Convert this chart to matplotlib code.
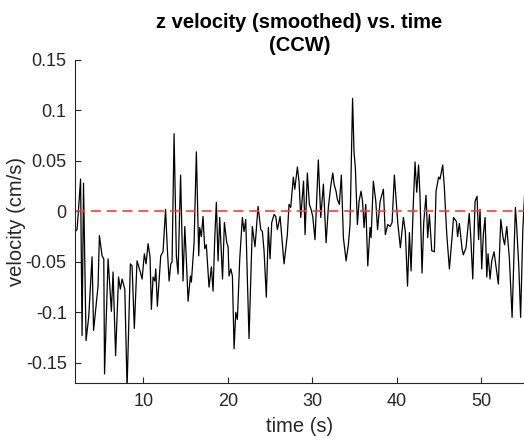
import matplotlib
matplotlib.use("Agg")
import matplotlib.pyplot as plt

# ---- data ----
time_s = [1.92, 2.14, 2.26, 2.56, 2.74, 2.91, 3.21, 3.53, 3.92, 4.10,
          4.63, 4.79, 5.11, 5.31, 5.40, 5.82, 6.21, 6.41, 6.71, 7.06,
          7.27, 7.48, 7.80, 8.07, 8.46, 8.66, 8.93, 9.25, 9.64, 9.85,
          10.12, 10.32, 10.56, 10.79, 10.95, 11.15, 11.35, 11.47, 11.66, 12.06,
          12.33, 12.63, 12.84, 13.05, 13.25, 13.40, 13.64, 13.91, 14.11, 14.41,
          14.70, 14.91, 15.09, 15.30, 15.57, 15.69, 16.01, 16.28, 16.56, 16.68,
          16.87, 17.07, 17.27, 17.46, 17.78, 18.06, 18.26, 18.46, 18.65, 18.85,
          19.05, 19.38, 19.60, 19.88, 20.04, 20.15, 20.36, 20.55, 20.75, 20.95,
          21.14, 21.42, 21.73, 21.93, 22.13, 22.52, 22.91, 23.23, 23.59, 23.91,
          24.10, 24.30, 24.57, 24.81, 25.01, 25.21, 25.49, 25.69, 25.88, 26.20,
          26.67, 27.06, 27.26, 27.46, 27.77, 27.94, 28.25, 28.45, 28.65, 28.98,
          29.16, 29.43, 29.67, 29.87, 30.07, 30.34, 30.55, 30.73, 31.02, 31.33,
          31.65, 31.92, 32.20, 32.44, 32.60, 32.83, 32.99, 33.22, 33.46, 33.70,
          34.02, 34.29, 34.49, 34.79, 34.96, 35.12, 35.36, 35.56, 35.79, 35.97,
          36.15, 36.35, 36.59, 36.86, 36.98, 37.25, 37.54, 37.75, 38.05, 38.44,
          38.67, 38.96, 39.23, 39.47, 39.74, 40.14, 40.45, 40.81, 41.04, 41.30,
          41.52, 41.72, 41.99, 42.19, 42.39, 42.61, 42.78, 43.02, 43.22, 43.49,
          43.69, 43.89, 44.17, 44.48, 44.68, 44.98, 45.15, 45.47, 45.66, 45.95,
          46.26, 46.58, 46.75, 47.09, 47.23, 47.44, 47.76, 47.91, 48.23, 48.61,
          48.79, 49.03, 49.30, 49.54, 49.72, 49.89, 50.09, 50.28, 50.49, 50.69,
          50.84, 51.08, 51.28, 51.55, 51.87, 52.06, 52.35, 52.62, 52.80, 53.06,
          53.37, 53.69, 54.08, 54.22, 54.48, 54.70, 54.96, 55.17]

velocity = [-0.020, -0.018, -0.005, 0.032, -0.123, 0.028, -0.128, -0.104, -0.045, -0.118,
            -0.074, -0.024, -0.044, -0.047, -0.161, -0.047, -0.099, -0.060, -0.143, -0.065,
            -0.077, -0.067, -0.077, -0.175, -0.052, -0.054, -0.116, -0.049, -0.060, -0.067,
            -0.042, -0.052, -0.032, -0.045, -0.097, -0.065, -0.069, -0.057, -0.094, -0.044,
            -0.040, 0.002, -0.037, -0.069, -0.052, -0.050, 0.077, -0.044, -0.062, 0.036,
            -0.069, -0.015, -0.047, -0.089, -0.064, -0.070, -0.031, 0.059, -0.044, -0.016,
            -0.025, -0.005, -0.037, -0.033, -0.075, -0.055, -0.079, -0.026, 0.009, -0.049,
            -0.006, -0.067, -0.011, -0.031, -0.035, -0.064, -0.057, -0.064, -0.136, -0.100,
            -0.107, -0.047, -0.006, -0.020, -0.008, -0.126, -0.015, -0.035, 0.005, -0.018,
            -0.020, -0.039, -0.085, -0.016, -0.047, -0.011, -0.003, -0.005, -0.018, -0.005,
            -0.052, -0.023, 0.007, 0.004, 0.034, 0.022, 0.044, 0.029, -0.006, 0.030,
            -0.023, 0.038, 0.007, 0.002, -0.005, -0.028, 0.014, 0.051, -0.006, 0.027,
            -0.031, 0.004, 0.025, 0.038, 0.027, 0.020, 0.012, 0.007, 0.036, -0.026,
            -0.049, -0.033, -0.013, 0.112, 0.059, 0.043, -0.013, 0.010, 0.020, 0.010,
            -0.016, 0.007, -0.054, -0.016, -0.026, 0.030, 0.010, -0.018, 0.010, 0.022,
            -0.023, -0.013, -0.015, -0.011, 0.036, -0.011, -0.036, -0.006, -0.020, -0.074,
            -0.021, -0.059, 0.009, 0.049, 0.019, 0.046, 0.015, -0.061, -0.011, 0.016,
            -0.026, -0.003, -0.039, -0.040, 0.020, 0.034, 0.032, 0.046, 0.024, -0.023,
            -0.057, -0.025, -0.006, -0.010, -0.025, -0.012, -0.037, -0.043, -0.036, -0.002,
            -0.025, -0.067, 0.010, 0.015, -0.028, 0.002, -0.057, -0.023, -0.006, -0.065,
            -0.042, -0.067, -0.049, -0.040, -0.060, -0.072, -0.008, -0.026, -0.033, -0.015,
            -0.047, -0.105, 0.004, -0.013, -0.054, -0.105, -0.018, 0.017]

x_ticks = [10, 20, 30, 40, 50]
y_ticks = [-0.15, -0.1, -0.05, 0, 0.05, 0.1, 0.15]
y_tick_labels = ["-0.15", "-0.1", "-0.05", "0", "0.05", "0.1", "0.15"]
title_text = "z velocity (smoothed) vs. time\n(CCW)"
x_label = "time (s)"
y_label = "velocity (cm/s)"

# ---- figure ----
plt.rcParams['font.family'] = ['Liberation Sans', 'DejaVu Sans']
fig = plt.figure(figsize=(5.24, 4.38), dpi=100)
ax = fig.add_axes([75 / 524, 55 / 438, 449 / 524, 323 / 438])

ax.plot(time_s, velocity, color='black', linewidth=0.9)
ax.axhline(0, color='#ff3b3b', linewidth=1.2, linestyle=(0, (6, 3.5)))

ax.set_xlim(1.9, 55.1)
ax.set_ylim(-0.17, 0.15)
ax.set_xticks(x_ticks)
ax.set_xticklabels([str(t) for t in x_ticks])
ax.set_yticks(y_ticks)
ax.set_yticklabels(y_tick_labels)

dark = '#262626'
for side in ['top', 'right']:
    ax.spines[side].set_visible(False)
for side in ['left', 'bottom']:
    ax.spines[side].set_color(dark)
    ax.spines[side].set_linewidth(0.8)
ax.tick_params(direction='in', length=4, width=0.8, colors=dark,
               labelsize=13, labelcolor=dark)
ax.tick_params(axis='x', pad=7)
ax.tick_params(axis='y', pad=6)

ax.set_xlabel(x_label, fontsize=14.5, color=dark, labelpad=5)
ax.set_ylabel(y_label, fontsize=14.5, color=dark, labelpad=0)
ax.set_title(title_text, fontsize=14.5, fontweight='bold', color='black',
             linespacing=1.25, pad=6.5)

fig.savefig('out.png', dpi=100)
